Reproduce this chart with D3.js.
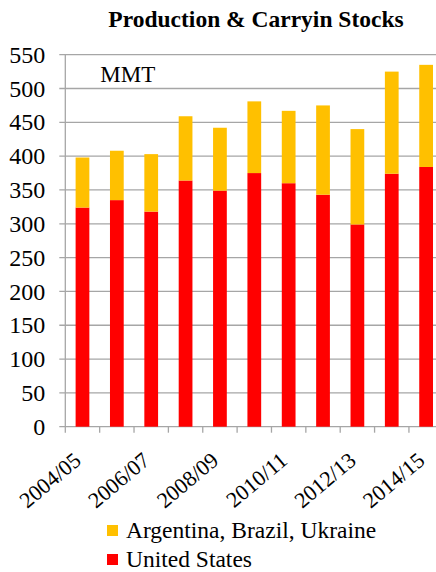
<!DOCTYPE html>
<html>
<head>
<meta charset="utf-8">
<script src="https://cdn.jsdelivr.net/npm/d3@7"></script>
<style>
  body { margin: 0; background: #fff; }
</style>
</head>
<body>
<div id="content"></div>
<script>
// data
const seasons = ["2004/05", "2005/06", "2006/07", "2007/08", "2008/09", "2009/10",
                 "2010/11", "2011/12", "2012/13", "2013/14", "2014/15"]
const unitedStates = [324, 335, 318, 364, 349, 375, 360, 343, 299, 374, 384]
const argBrzUkr = [74, 73, 85, 95, 93, 106, 107, 132, 141, 151, 151]
const yTicks = [0, 50, 100, 150, 200, 250, 300, 350, 400, 450, 500, 550]
const seriesNames = ["Argentina, Brazil, Ukraine", "United States"]
const colors = {"United States": "#ff0000", "Argentina, Brazil, Ukraine": "#ffc000"}

const font = "'Liberation Serif', 'Times New Roman', Times, serif"
const outerWidth = 436
const outerHeight = 572
const margin = {top: 54.7, left: 65.3}
const width = 378   // plot runs past the right edge, like the original
const height = 372

const svg = d3.select("#content").append("svg")
    .attr("width", outerWidth)
    .attr("height", outerHeight)
    .style("font-family", font)

const wrapper = svg.append("g")
    .attr("transform", `translate(${margin.left}, ${margin.top})`)

const rows = seasons.map((s, i) => ({
    season: s,
    "United States": unitedStates[i],
    "Argentina, Brazil, Ukraine": argBrzUkr[i],
}))
const stacked = d3.stack().keys(["United States", "Argentina, Brazil, Ukraine"])(rows)

// scales
const xScale = d3.scaleBand()
    .domain(seasons)
    .range([0, width])
    .paddingInner(0.6)
    .paddingOuter(0.3)
const yScale = d3.scaleLinear()
    .domain([0, 550])
    .range([height, 0])

// gridlines
wrapper.append("g")
    .selectAll("line")
    .data(yTicks)
    .join("line")
    .attr("x1", -6)
    .attr("x2", width)
    .attr("y1", d => yScale(d))
    .attr("y2", d => yScale(d))
    .style("stroke", "#a6a6a6")
    .style("stroke-width", 1.3)

// y labels
wrapper.append("g")
    .selectAll("text")
    .data(yTicks)
    .join("text")
    .attr("x", -20)
    .attr("y", d => yScale(d))
    .attr("dy", "0.34em")
    .attr("text-anchor", "end")
    .style("font-size", "24px")
    .text(d => d)

// bars
wrapper.append("g")
    .selectAll("g")
    .data(stacked)
    .join("g")
    .style("fill", d => colors[d.key])
    .selectAll("rect")
    .data(d => d)
    .join("rect")
    .attr("x", d => xScale(d.data.season))
    .attr("width", xScale.bandwidth())
    .attr("y", d => yScale(d[1]))
    .attr("height", d => yScale(d[0]) - yScale(d[1]))

// axis lines
const step = xScale.step()
wrapper.append("line")
    .attr("x1", 0).attr("x2", 0)
    .attr("y1", 0).attr("y2", height)
    .style("stroke", "#a6a6a6")
    .style("stroke-width", 1.3)
wrapper.append("g")
    .selectAll("line")
    .data(d3.range(seasons.length + 1))
    .join("line")
    .attr("x1", d => d * step)
    .attr("x2", d => d * step)
    .attr("y1", height)
    .attr("y2", height + 6)
    .style("stroke", "#a6a6a6")
    .style("stroke-width", 1.3)

// x labels, every other season
wrapper.append("g")
    .selectAll("text")
    .data(seasons.filter((d, i) => i % 2 === 0))
    .join("text")
    .attr("transform", d => `translate(${xScale(d) + xScale.bandwidth() / 2}, ${height + 36}) rotate(-40)`)
    .attr("text-anchor", "end")
    .style("font-size", "22px")
    .text(d => d)

// unit label
wrapper.append("text")
    .attr("x", 35)
    .attr("y", 27)
    .style("font-size", "23px")
    .text("MMT")

// title
svg.append("text")
    .attr("x", 256)
    .attr("y", 27)
    .attr("text-anchor", "middle")
    .style("font-size", "23.5px")
    .style("font-weight", "bold")
    .text("Production & Carryin Stocks")

// legend
const legend = svg.append("g")
    .attr("transform", "translate(107, 525)")
const items = legend.selectAll("g")
    .data(seriesNames)
    .join("g")
    .attr("transform", (d, i) => `translate(0, ${i * 29})`)
items.append("rect")
    .attr("width", 11)
    .attr("height", 11)
    .style("fill", d => colors[d])
items.append("text")
    .attr("x", 19)
    .attr("y", 13)
    .style("font-size", "23.5px")
    .text(d => d)
</script>
</body>
</html>
